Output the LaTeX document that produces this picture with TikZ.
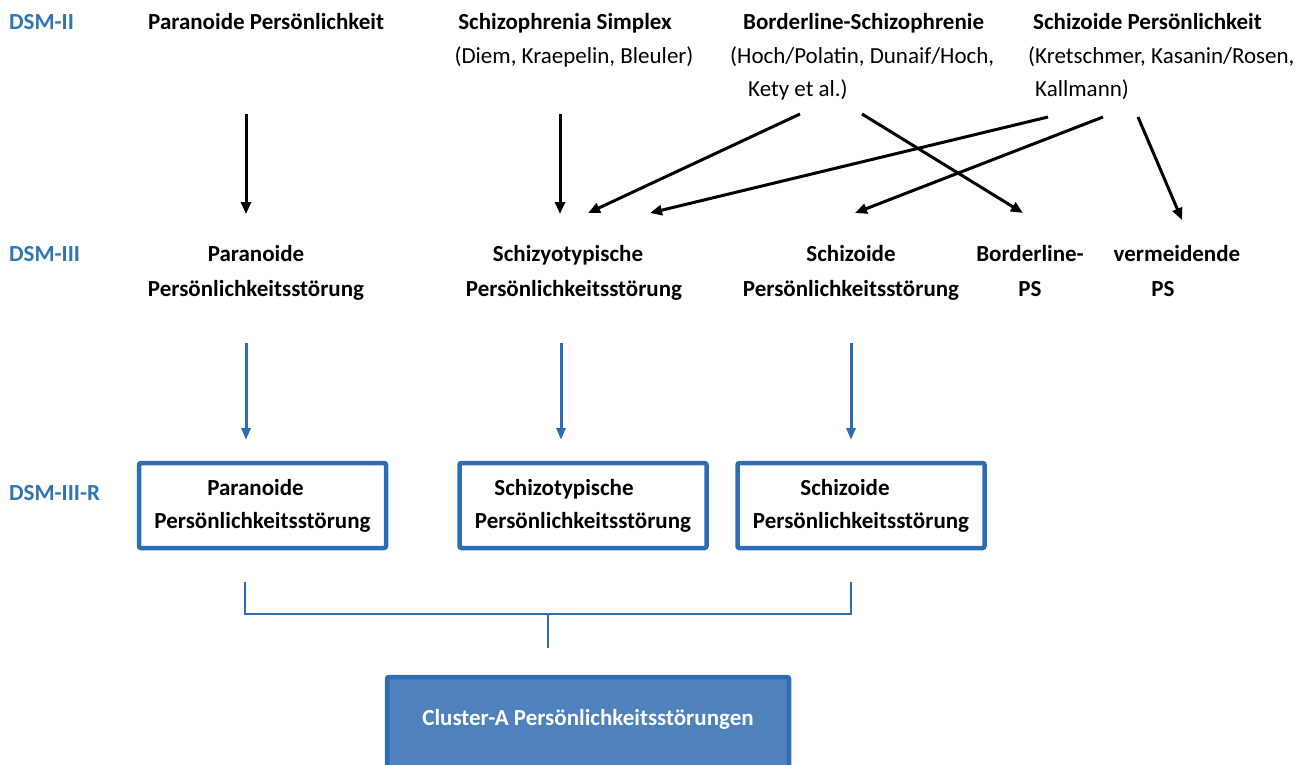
\documentclass[tikz,border=0pt]{standalone}
\usepackage{fontspec}
\setmainfont{Carlito}
\usetikzlibrary{arrows.meta}
\definecolor{dsmblue}{HTML}{2E75B6}
\definecolor{lineblue}{HTML}{2E6DB4}
\definecolor{fillblue}{HTML}{4F81BD}
\begin{document}
\begin{tikzpicture}[x=1pt,y=-1pt,
  every node/.style={inner sep=0pt},
  lbl/.style={font=\fontsize{23}{34}\selectfont\bfseries, text=dsmblue, anchor=base west},
  bt/.style={font=\fontsize{23}{35}\selectfont\bfseries},
  rt/.style={font=\fontsize{23}{34}\selectfont},
  two/.style={bt, align=center, anchor=base},
  blk/.style={line width=3pt, -{Triangle[length=12pt,width=10pt]}},
  blu/.style={line width=3pt, draw=lineblue, -{Triangle[length=12pt,width=9pt]}, color=lineblue},
  brk/.style={line width=2.2pt, draw=lineblue},
  rbox/.style={draw=lineblue, line width=4.5pt, rounded corners=2pt, fill=white,
     minimum width=247pt, minimum height=85pt, align=center, font=\fontsize{23}{33}\selectfont\bfseries},
  cbox/.style={draw=lineblue, fill=fillblue, line width=4.5pt, rounded corners=2pt, text=white,
     bt, minimum width=402pt, text height=48pt, text depth=80pt, anchor=base}
]
\useasboundingbox (0,0) rectangle (1297,764);
\clip (0,0) rectangle (1297,764);

% row labels
\node[lbl] (l2) at (9,29) {DSM-II};
\node[lbl] (l3) at (9,261) {DSM-III};
\node[lbl] (l3r) at (9,500) {DSM-III-R};

% DSM-II row
\node[bt, anchor=base west] (pp) at (148,29) {Paranoide Persönlichkeit};
\node[bt, anchor=base] (ss) at (565,29) {Schizophrenia Simplex};
\node[rt, anchor=base] (ssr) at (574,63) {(Diem, Kraepelin, Bleuler)};
\node[bt, anchor=base west] (bs) at (743,29) {Borderline-Schizophrenie};
\node[rt, anchor=base west] (bsr1) at (730,63) {(Hoch/Polatin, Dunaif/Hoch,};
\node[rt, anchor=base west] (bsr2) at (748,96) {Kety et al.)};
\node[bt, anchor=base west] (sp) at (1033,29) {Schizoide Persönlichkeit};
\node[rt, anchor=base west] (spr1) at (1028,63) {(Kretschmer, Kasanin/Rosen,};
\node[rt, anchor=base west] (spr2) at (1035,96) {Kallmann)};

% DSM-III row (base = baseline of last line)
\node[two] (p3) at (256,296) {Paranoide\\Persönlichkeitsstörung};
\node[two] (t3) at (574,296) {Schizyotypische\hspace*{12pt}\\Persönlichkeitsstörung};
\node[two] (s3) at (851,296) {Schizoide\\Persönlichkeitsstörung};
\node[two] (b3) at (1030,296) {Borderline-\\PS};
\node[two] (v3) at (1177,296) {vermeidende\\PS\hspace*{28pt}};

% DSM-III-R boxes
\node[rbox] (p4) at (262.5,505.5) {Paranoide\hspace*{14pt}\\Persönlichkeitsstörung};
\node[rbox] (t4) at (583,505.5) {Schizotypische\hspace*{38pt}\\Persönlichkeitsstörung};
\node[rbox] (s4) at (861,505.5) {Schizoide\hspace*{32pt}\\Persönlichkeitsstörung};

% cluster box
\node[cbox] (cl) at (588,725) {Cluster-A Persönlichkeitsstörungen};

% arrow coordinates
\coordinate (a1s) at (246,114); \coordinate (a1e) at (246,214);
\coordinate (a2s) at (560,114); \coordinate (a2e) at (560,214);
\coordinate (a3s) at (800,114); \coordinate (a3e) at (588,213);
\coordinate (a4s) at (862,114); \coordinate (a4e) at (1023,213);
\coordinate (a5s) at (1048,117); \coordinate (a5e) at (650,213);
\coordinate (a6s) at (1103,117); \coordinate (a6e) at (855,213);
\coordinate (a7s) at (1138,117); \coordinate (a7e) at (1182,220);
\draw[blk] (a1s) -- (a1e);
\draw[blk] (a2s) -- (a2e);
\draw[blk] (a3s) -- (a3e);
\draw[blk] (a4s) -- (a4e);
\draw[blk] (a5s) -- (a5e);
\draw[blk] (a6s) -- (a6e);
\draw[blk] (a7s) -- (a7e);

\coordinate (b1s) at (246,343); \coordinate (b1e) at (246,440);
\coordinate (b2s) at (561,343); \coordinate (b2e) at (561,440);
\coordinate (b3s) at (851,343); \coordinate (b3e) at (851,440);
\draw[blu] (b1s) -- (b1e);
\draw[blu] (b2s) -- (b2e);
\draw[blu] (b3s) -- (b3e);

% bracket
\coordinate (k1) at (245,582); \coordinate (k2) at (851,582);
\coordinate (km) at (548,614); \coordinate (ke) at (548,648);
\draw[brk] (k1) |- (km) -| (k2);
\draw[brk] (km) -- (ke);
\end{tikzpicture}
\end{document}
